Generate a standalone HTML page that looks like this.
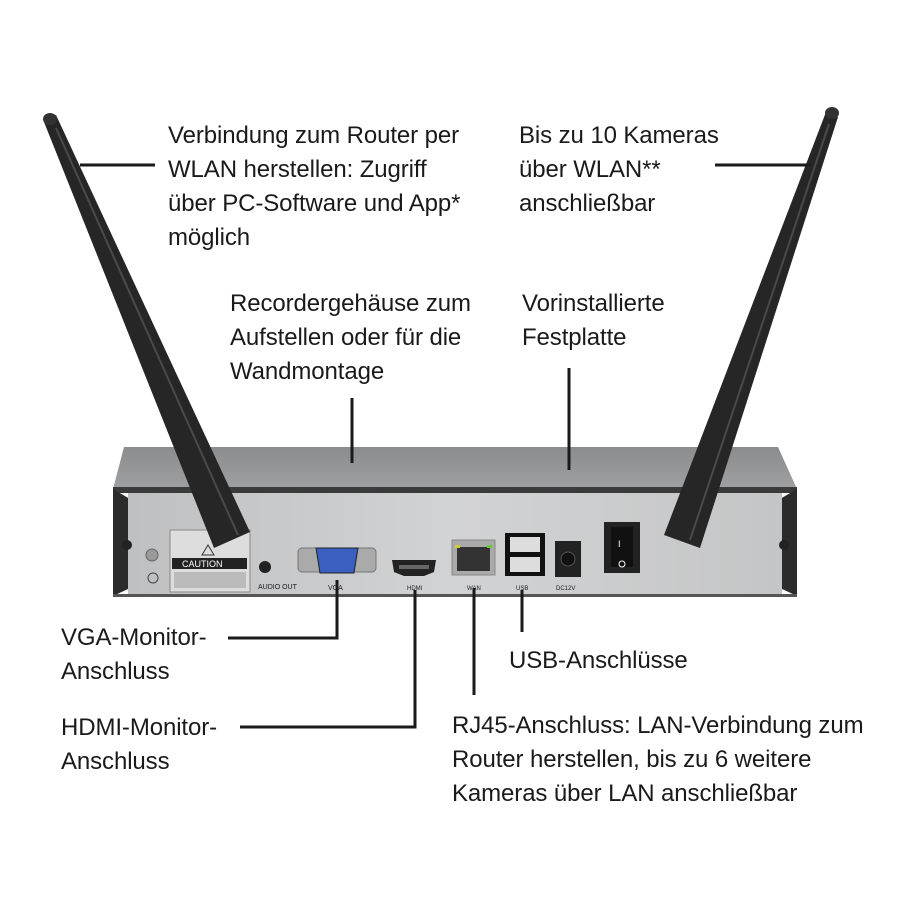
<!DOCTYPE html>
<html><head><meta charset="utf-8"><style>
body{margin:0;background:#fff;width:900px;height:900px;overflow:hidden}
svg text{font-family:"Liberation Sans",sans-serif;font-size:24px;fill:#1a1a1a;letter-spacing:-0.1px}
</style></head><body>
<svg width="900" height="900" viewBox="0 0 900 900" xmlns="http://www.w3.org/2000/svg">
<defs>
<linearGradient id="top" x1="0" y1="0" x2="0" y2="1"><stop offset="0" stop-color="#8a8c8e"/><stop offset="1" stop-color="#9ea0a2"/></linearGradient>
<linearGradient id="panel" x1="0" y1="0" x2="1" y2="0"><stop offset="0" stop-color="#bfc0c1"/><stop offset=".5" stop-color="#d2d3d4"/><stop offset="1" stop-color="#c4c5c6"/></linearGradient>
</defs>
<polygon points="124,447 778,447 797,489 113,489" fill="url(#top)"/>
<rect x="113" y="487" width="684" height="6" fill="#3a3a3a"/>
<polygon points="113,489 130,499 130,588 113,596" fill="#2b2b2b"/>
<polygon points="797,489 780,499 780,588 797,596" fill="#2b2b2b"/>
<rect x="128" y="493" width="654" height="103" fill="url(#panel)"/>
<rect x="113" y="594" width="684" height="3" fill="#555"/>
<circle cx="127" cy="545" r="5" fill="#222"/><circle cx="784" cy="545" r="5" fill="#222"/>
<circle cx="152" cy="555" r="6" fill="#999" stroke="#666"/>
<circle cx="153" cy="578" r="5" fill="none" stroke="#444"/>
<rect x="170" y="530" width="80" height="62" fill="#ddd" stroke="#888"/>
<rect x="172" y="558" width="75" height="11" fill="#222"/>
<text x="182" y="567" style="font-size:9px;fill:#fff;letter-spacing:0">CAUTION</text>
<rect x="174" y="572" width="72" height="16" fill="#bbb"/>
<path d="M208 545 l6 10 h-12z" fill="none" stroke="#333"/>
<circle cx="265" cy="567" r="6" fill="#222"/>
<text x="258" y="589" style="font-size:7px;letter-spacing:0">AUDIO OUT</text>
<rect x="298" y="548" width="78" height="24" rx="4" fill="#aaa" stroke="#777"/>
<polygon points="316,548 358,548 354,573 320,573" fill="#3b5fc0" stroke="#222"/>
<text x="328" y="590" style="font-size:7px;letter-spacing:0">VGA</text>
<polygon points="392,560 436,560 434,572 424,576 404,576 394,572" fill="#222"/>
<rect x="399" y="565" width="30" height="4" fill="#666"/>
<text x="407" y="590" style="font-size:6px;letter-spacing:0">HDMI</text>
<rect x="452" y="540" width="43" height="35" fill="#aaa" stroke="#888"/>
<rect x="457" y="547" width="33" height="24" fill="#333"/>
<rect x="455" y="545" width="5" height="3" fill="#cc3"/><rect x="487" y="545" width="5" height="3" fill="#6c3"/>
<text x="467" y="590" style="font-size:6px;letter-spacing:0">WAN</text>
<rect x="505" y="533" width="40" height="43" fill="#111"/>
<rect x="510" y="537" width="30" height="15" fill="#ddd"/><rect x="510" y="557" width="30" height="15" fill="#ddd"/>
<text x="516" y="590" style="font-size:6px;letter-spacing:0">USB</text>
<rect x="555" y="541" width="26" height="36" fill="#222"/>
<circle cx="568" cy="559" r="7" fill="#111" stroke="#555"/>
<text x="556" y="590" style="font-size:6px;letter-spacing:0">DC12V</text>
<rect x="604" y="522" width="36" height="51" fill="#222"/>
<rect x="611" y="527" width="22" height="40" fill="#111"/>
<text x="618" y="547" style="font-size:9px;fill:#fff;letter-spacing:0">I</text>
<circle cx="622" cy="564" r="3" fill="none" stroke="#fff"/>
<!-- antennas -->
<polygon points="44,122 56,115 250,532 214,548" fill="#262626"/>
<ellipse cx="50" cy="119" rx="7" ry="6" fill="#333"/>
<line x1="56" y1="128" x2="238" y2="535" stroke="#4a4a4a" stroke-width="2"/>
<polygon points="826,112 838,117 700,548 664,535" fill="#262626"/>
<ellipse cx="832" cy="113" rx="7" ry="6" fill="#333"/>
<line x1="829" y1="124" x2="690" y2="540" stroke="#4a4a4a" stroke-width="2"/>
<g stroke="#1a1a1a" stroke-width="3" fill="none">
<line x1="80" y1="165" x2="155" y2="165"/>
<line x1="715" y1="165" x2="810" y2="165"/>
<line x1="352" y1="398" x2="352" y2="463"/>
<line x1="569" y1="368" x2="569" y2="470"/>
<polyline points="337,580 337,638 228,638"/>
<polyline points="415,590 415,727 240,727"/>
<line x1="474" y1="588" x2="474" y2="695"/>
<line x1="522" y1="590" x2="522" y2="632"/>
</g>
<text x="168" y="143">Verbindung zum Router per</text>
<text x="168" y="177">WLAN herstellen: Zugriff</text>
<text x="168" y="211">über PC-Software und App*</text>
<text x="168" y="245">möglich</text>
<text x="519" y="143">Bis zu 10 Kameras</text>
<text x="519" y="177">über WLAN**</text>
<text x="519" y="211">anschließbar</text>
<text x="230" y="311">Recordergehäuse zum</text>
<text x="230" y="345">Aufstellen oder für die</text>
<text x="230" y="379">Wandmontage</text>
<text x="522" y="311">Vorinstallierte</text>
<text x="522" y="345">Festplatte</text>
<text x="61" y="645">VGA-Monitor-</text>
<text x="61" y="679">Anschluss</text>
<text x="61" y="735">HDMI-Monitor-</text>
<text x="61" y="769">Anschluss</text>
<text x="509" y="668">USB-Anschlüsse</text>
<text x="452" y="733">RJ45-Anschluss: LAN-Verbindung zum</text>
<text x="452" y="767">Router herstellen, bis zu 6 weitere</text>
<text x="452" y="801">Kameras über LAN anschließbar</text>
</svg>
</body></html>
